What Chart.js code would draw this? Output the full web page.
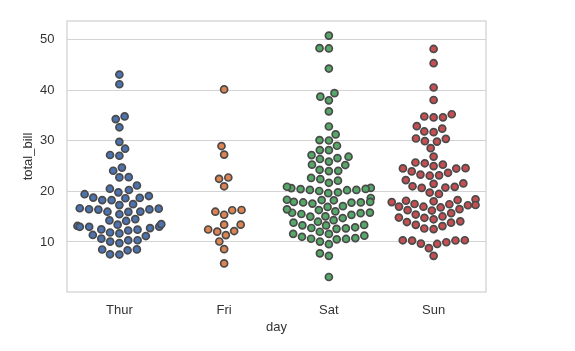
<!DOCTYPE html>
<html>
<head>
<meta charset="utf-8">
<script src="https://cdn.jsdelivr.net/npm/chart.js@4.4.1/dist/chart.umd.min.js"></script>
<style>
  html, body { margin: 0; padding: 0; background: #fff; }
</style>
</head>
<body>
<canvas id="swarm" width="575" height="351"></canvas>
<script>
// tips dataset, total_bill grouped by day
const days = ['Thur', 'Fri', 'Sat', 'Sun'];
const thurBills = [27.20, 22.76, 17.29, 19.44, 16.66, 10.07, 32.68, 15.98, 34.83, 13.03, 18.28, 24.71, 21.16,
  10.65, 12.43, 24.08, 11.69, 13.42, 14.26, 15.95, 12.48, 29.80, 8.52, 14.52, 11.38, 22.82, 19.08, 20.27,
  11.17, 12.26, 18.26, 8.51, 10.33, 14.15, 16.00, 13.16, 17.47, 34.30, 41.19, 27.05, 16.43, 8.35, 18.64,
  11.87, 9.78, 7.51, 19.81, 28.44, 15.48, 16.58, 7.56, 10.34, 43.11, 13.00, 13.51, 18.71, 12.74, 13.00,
  16.40, 20.53, 16.47, 18.78];
const friBills = [28.97, 22.49, 5.75, 16.32, 22.75, 40.17, 27.28, 12.03, 21.01, 12.46, 11.35, 15.38,
  12.16, 13.42, 8.58, 15.98, 13.42, 16.27, 10.09];
const satBills = [20.65, 17.92, 20.29, 15.77, 39.42, 19.82, 17.81, 13.37, 12.69, 21.70, 19.65, 9.55, 18.35,
  15.06, 20.69, 17.78, 24.06, 16.31, 16.93, 18.69, 31.27, 16.04, 38.01, 26.41, 11.24, 48.27, 20.29, 13.81,
  11.02, 18.29, 17.59, 20.08, 16.45, 3.07, 20.23, 15.01, 12.02, 17.07, 26.86, 25.28, 14.73, 10.51, 17.92,
  44.30, 22.42, 20.92, 15.36, 20.49, 25.21, 18.24, 14.31, 14.00, 7.25, 10.59, 10.63, 50.81, 15.81,
  26.59, 38.73, 24.27, 12.76, 30.06, 25.89, 48.33, 13.27, 28.17, 12.90, 28.15, 11.59, 7.74, 30.14,
  20.45, 13.28, 22.12, 24.01, 15.69, 11.61, 10.77, 15.53, 10.07, 12.60, 32.83, 35.83, 29.03, 27.18,
  22.67, 17.82];
const sunBills = [16.99, 10.34, 21.01, 23.68, 24.59, 25.29, 8.77, 26.88, 15.04, 14.78, 10.27, 35.26, 15.42,
  18.43, 14.83, 21.58, 10.33, 16.29, 16.97, 17.46, 13.94, 9.68, 30.40, 18.29, 22.23, 32.40, 28.55, 18.04,
  12.54, 10.29, 34.81, 9.94, 25.56, 19.49, 38.07, 23.95, 25.71, 17.31, 29.93, 14.07, 13.13, 17.26, 24.55,
  19.77, 29.85, 48.17, 25.00, 13.39, 16.49, 21.50, 12.66, 16.21, 13.81, 17.51, 24.52, 20.76, 31.71,
  7.25, 31.85, 16.82, 32.90, 17.89, 14.48, 9.60, 34.63, 34.65, 23.33, 45.35, 23.17, 40.55, 20.69, 20.90,
  30.46, 18.15, 23.10, 15.69];
const bills = [thurBills, friBills, satBills, sunBills];
const yTicks = [10, 20, 30, 40, 50];

const fills = ['#4c72b0', '#dd8452', '#55a868', '#c44e52'];
const textColor = '#333333';
const gridColor = '#d3d3d3';
const font = { family: "'Liberation Sans', Arial, sans-serif", size: 13 };

// light grey box round the plot area
const frame = {
  id: 'frame',
  beforeDatasetsDraw(chart) {
    const { ctx, chartArea: a } = chart;
    ctx.save();
    ctx.strokeStyle = gridColor;
    ctx.lineWidth = 1.3;
    ctx.strokeRect(a.left, a.top, a.right - a.left, a.bottom - a.top);
    ctx.restore();
  }
};

const chart = new Chart(document.getElementById('swarm'), {
  type: 'scatter',
  data: {
    datasets: bills.map((vals, k) => ({
      label: days[k],
      data: vals.map(v => ({ x: k, y: v })),
      backgroundColor: fills[k],
      borderColor: '#4a4a4a',
      borderWidth: 1.7,
      pointRadius: 3.5,
      pointHoverRadius: 3.5
    }))
  },
  options: {
    responsive: false,
    animation: false,
    devicePixelRatio: 1,
    layout: { padding: { top: 21, right: 89, left: 0, bottom: 0 } },
    plugins: { legend: { display: false }, tooltip: { enabled: false } },
    scales: {
      x: {
        type: 'linear',
        min: -0.5,
        max: 3.5,
        afterBuildTicks: s => { s.ticks = days.map((d, i) => ({ value: i })); },
        afterFit: s => { s.height = 59; },
        ticks: { color: textColor, font: font, padding: 10.5, callback: v => days[v] },
        grid: { display: false, drawTicks: false },
        border: { display: false },
        title: { display: true, text: 'day', color: textColor, font: font, padding: { top: 0, bottom: 16 } }
      },
      y: {
        min: 0.1,
        max: 53.7,
        afterBuildTicks: s => { s.ticks = yTicks.map(v => ({ value: v })); },
        afterFit: s => { s.width = 67; },
        ticks: { color: textColor, font: font, padding: 12.5 },
        grid: { color: gridColor, drawTicks: false },
        border: { display: false },
        title: { display: true, text: 'total_bill', color: textColor, font: font, padding: { top: 21, bottom: 0 } }
      }
    }
  },
  plugins: [frame]
});

// beeswarm placement (same idea as seaborn's swarmplot), done in pixels
function swarm(chart) {
  const xs = chart.scales.x, ys = chart.scales.y;
  const d = 8.9;
  chart.data.datasets.forEach((ds, k) => {
    const mid = xs.getPixelForValue(k);
    const pts = bills[k].map((v, i) => ({ i: i, v: v, x: mid, y: -ys.getPixelForValue(v) }));
    const order = pts.slice().sort((a, b) => a.y - b.y);
    const placed = [order[0]];
    for (const p of order.slice(1)) {
      const nb = [];
      for (let j = placed.length - 1; j >= 0; j--) {
        if (p.y - placed[j].y < d) nb.unshift(placed[j]);
        else break;
      }
      let cands = [mid];
      let leftFirst = true;
      nb.forEach(q => {
        const dy = p.y - q.y;
        const dx = Math.sqrt(Math.max(d * d - dy * dy, 0)) * 1.05;
        if (leftFirst) cands.push(q.x - dx, q.x + dx);
        else cands.push(q.x + dx, q.x - dx);
        leftFirst = !leftFirst;
      });
      cands = cands.map((c, n) => ({ c, n }))
        .sort((a, b) => Math.abs(a.c - mid) - Math.abs(b.c - mid) || a.n - b.n)
        .map(o => o.c);
      let pick = cands[0];
      if (nb.length) {
        for (const c of cands) {
          if (nb.every(q => (q.x - c) ** 2 + (q.y - p.y) ** 2 >= d * d)) { pick = c; break; }
        }
      }
      p.x = pick;
      placed.push(p);
    }
    // points pushed past 0.8 of the slot get stacked on its edge
    const lo = xs.getPixelForValue(k - 0.4), hi = xs.getPixelForValue(k + 0.4);
    ds.data = pts.map(p => ({
      x: xs.getValueForPixel(Math.min(hi, Math.max(lo, p.x))),
      y: p.v
    }));
  });
  chart.update('none');
}
swarm(chart);
</script>
</body>
</html>
